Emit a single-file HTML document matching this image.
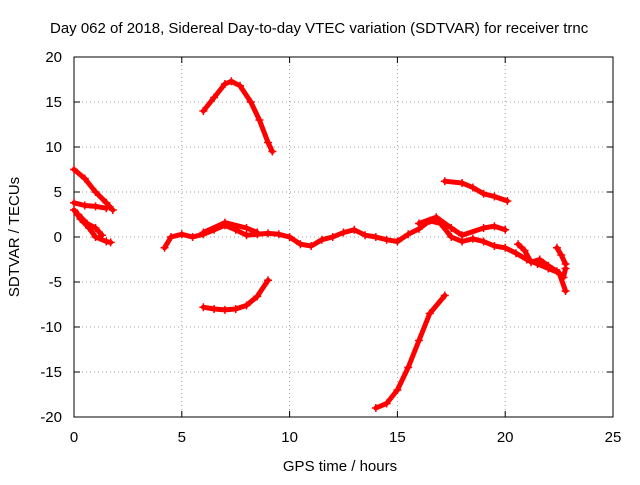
<!DOCTYPE html>
<html><head><meta charset="utf-8"><style>
body{margin:0;background:#fff}
svg text{font-family:"Liberation Sans",sans-serif;font-size:15px;fill:#000}
</style></head><body>
<svg width="640" height="480">
<rect width="640" height="480" fill="#fff"/>
<text x="50" y="33">Day 062 of 2018, Sidereal Day-to-day VTEC variation (SDTVAR) for receiver trnc</text>
<g id="grid"></g>
<g id="axes"></g>
<g id="marks"></g>
<text x="340" y="471" text-anchor="middle">GPS time / hours</text>
<text transform="translate(19,237) rotate(-90)" text-anchor="middle">SDTVAR / TECUs</text>
</svg>
<script>
const xTicks=[0,5,10,15,20,25];
const yTicks=[-20,-15,-10,-5,0,5,10,15,20];
const segTopArc=[[6.0,14],[6.5,15.5],[7.0,17],[7.3,17.3],[7.7,16.8],[8.2,15],[8.6,13],[9.0,10.5],[9.2,9.5]];
const segLowArc=[[6,-7.8],[6.5,-8],[7,-8.1],[7.5,-8],[8,-7.6],[8.5,-6.6],[9,-4.8]];
const segRise=[[14,-19],[14.5,-18.5],[15,-17],[15.5,-14.5],[16,-11.5],[16.5,-8.5],[17.2,-6.5]];
const segUpper=[[17.2,6.2],[18,6],[18.5,5.5],[19,4.8],[19.5,4.5],[20.1,4]];
const segLeftA=[[0,7.5],[0.5,6.5],[1,5],[1.5,3.8],[1.8,3]];
const segLeftB=[[0,3.8],[0.5,3.5],[1,3.4],[1.5,3.2]];
const segLeftC=[[0,3],[0.3,2],[0.7,1],[1,0],[1.5,-0.5],[1.7,-0.6]];
const segLeftD=[[0.2,2.5],[0.6,1.5],[1,1],[1.3,0.2]];
const segMain=[[4.2,-1.2],[4.5,0],[5,0.3],[5.5,0],[6,0.3],[6.5,0.8],[7,1.3],[7.5,0.8],[8,0.2],[8.5,0.3],[9,0.4],[9.5,0.3],[10,0],[10.5,-0.8],[11,-1],[11.5,-0.3],[12,0],[12.5,0.5],[13,0.8],[13.5,0.2],[14,0],[14.5,-0.3],[15,-0.5],[15.5,0.3],[16,0.9],[16.5,1.8],[17,1.5],[17.5,0],[18,-0.5],[18.5,-0.2],[19,-0.5],[19.5,-1],[20,-1.2],[20.5,-1.8],[21,-2.5],[21.5,-3],[22,-3.5],[22.5,-4],[22.8,-6]];
const segMain2=[[6,0.5],[7,1.6],[8,1],[8.5,0.5]];
const segMain3=[[16,1.5],[16.8,2.2],[17.5,1],[18,0.2],[19,1],[19.5,1.2],[20,0.8]];
const segTail=[[22.4,-1.2],[22.6,-2],[22.8,-3]];
const segTail2=[[20.6,-0.8],[20.9,-1.5],[21.2,-2.8],[21.6,-2.5],[22,-3.2],[22.4,-3.8],[22.7,-4.5],[22.8,-3.5]];
const series=[segTopArc,segLowArc,segRise,segUpper,segLeftA,segLeftB,segLeftC,segLeftD,segMain,segMain2,segMain3,segTail,segTail2];
const X0=74,X1=613,Y0=57,Y1=417;
const sx=v=>X0+(v-0)/25*(X1-X0);
const sy=v=>Y1-(v+20)/40*(Y1-Y0);
const NS="http://www.w3.org/2000/svg";
const g=document.getElementById('grid'),a=document.getElementById('axes'),m=document.getElementById('marks');
function mk(t,at,p){const e=document.createElementNS(NS,t);for(const k in at)e.setAttribute(k,at[k]);p.appendChild(e);return e;}
xTicks.forEach(t=>{const x=sx(t);
 if(t>0&&t<25){const l=mk('line',{x1:x,x2:x,y1:Y0,y2:Y1,stroke:'#a0a0a0','stroke-dasharray':'1,3'},g);}
 const tk=mk('path',{d:`M${x},${Y1}v-6M${x},${Y0}v6`,stroke:'#000'},a);
 const tx=mk('text',{x:x,y:Y1+25,'text-anchor':'middle'},a);tx.textContent=t;});
yTicks.forEach(t=>{const y=sy(t);
 if(t>-20&&t<20){const l=mk('line',{x1:X0,x2:X1,y1:y,y2:y,stroke:'#a0a0a0','stroke-dasharray':'1,3'},g);}
 const tk=mk('path',{d:`M${X0},${y}h6M${X1},${y}h-6`,stroke:'#000'},a);
 const tx=mk('text',{x:X0-12,y:y+5,'text-anchor':'end'},a);tx.textContent=t;});
const fr=mk('rect',{x:X0,y:Y0,width:X1-X0,height:Y1-Y0,fill:'none',stroke:'#000'},a);

series.forEach(s=>{
 const pl=mk('polyline',{points:s.map(p=>sx(p[0])+','+sy(p[1])).join(' '),fill:'none',stroke:'#f00','stroke-width':5,'stroke-linejoin':'round','stroke-linecap':'round'},m);
 
 s.forEach(p=>{const x=sx(p[0]),y=sy(p[1]);
  const c=mk('path',{d:`M${x-4},${y}h8M${x},${y-4}v8`,stroke:'#f00','stroke-width':1.5},m);
  });
});
</script>
</body></html>
